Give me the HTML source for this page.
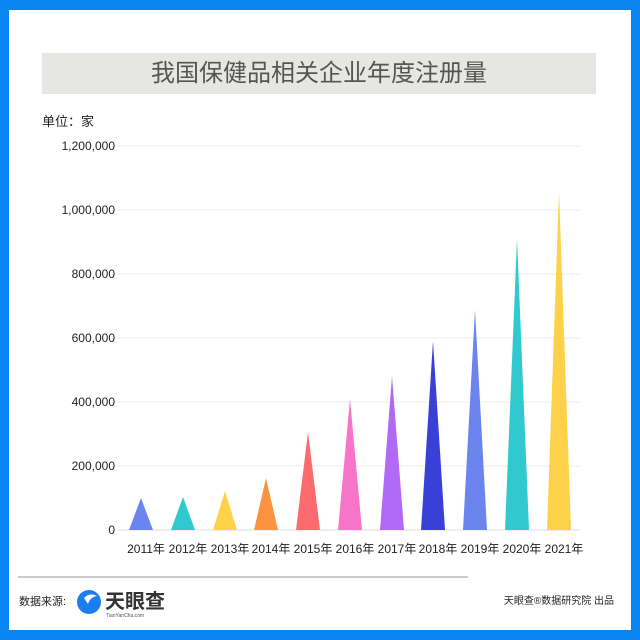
<!DOCTYPE html>
<html><head><meta charset="utf-8"><style>
body{margin:0;width:640px;height:640px;background:#0a84f0;position:relative;overflow:hidden;font-family:"Liberation Sans","Noto Sans CJK SC",sans-serif}
#w{position:absolute;left:9px;top:10px;width:622px;height:620px;background:#fff}
.t{position:absolute}
</style></head><body>
<div id="w"></div>
<div class="t" style="left:42px;top:53px;width:554px;height:41px;background:#e6e6e3;color:#555;font-size:24px;line-height:41px;text-align:center">我国保健品相关企业年度注册量</div>
<div class="t" style="left:42px;top:111px;font-size:13px;color:#222">单位：家</div>
<svg class="t" style="left:0;top:0" width="640" height="640">
<g stroke="#eee" stroke-width="1">
<line x1="118" x2="580" y1="146" y2="146"/><line x1="118" x2="580" y1="210" y2="210"/><line x1="118" x2="580" y1="274" y2="274"/><line x1="118" x2="580" y1="338" y2="338"/><line x1="118" x2="580" y1="402" y2="402"/><line x1="118" x2="580" y1="466" y2="466"/><line x1="118" x2="580" y1="530" y2="530" stroke="#ddd"/>
</g>
<g font-size="12" fill="#222" text-anchor="end">
<text x="115" y="150">1,200,000</text><text x="115" y="214">1,000,000</text><text x="115" y="278">800,000</text><text x="115" y="342">600,000</text><text x="115" y="406">400,000</text><text x="115" y="470">200,000</text><text x="115" y="534">0</text>
</g>
<g>
<polygon points="129,530 153,530 141,498" fill="#6b84ee"/>
<polygon points="171,530 195,530 183,497" fill="#2fc9cf"/>
<polygon points="213,530 237,530 225,491" fill="#fdd24a"/>
<polygon points="254,530 278,530 266,478" fill="#fb9442"/>
<polygon points="296,530 320,530 308,432" fill="#fb6b6d"/>
<polygon points="338,530 362,530 350,399" fill="#f775c8"/>
<polygon points="380,530 404,530 392,376" fill="#b26af6"/>
<polygon points="421,530 445,530 433,341" fill="#3a40d6"/>
<polygon points="463,530 487,530 475,310" fill="#6b84ee"/>
<polygon points="505,530 529,530 517,239" fill="#2fc9cf"/>
<polygon points="547,530 571,530 559,191" fill="#fdd24a"/>
</g>
<g font-size="12" fill="#222" text-anchor="middle">
<text x="146" y="553">2011年</text><text x="188" y="553">2012年</text><text x="230" y="553">2013年</text><text x="271" y="553">2014年</text><text x="313" y="553">2015年</text><text x="355" y="553">2016年</text><text x="397" y="553">2017年</text><text x="438" y="553">2018年</text><text x="480" y="553">2019年</text><text x="522" y="553">2020年</text><text x="564" y="553">2021年</text>
</g>
<line x1="18" x2="468" y1="577" y2="577" stroke="#ccc" stroke-width="2"/>
<text x="19" y="605" font-size="11" fill="#222">数据来源:</text>
<circle cx="89" cy="602" r="12" fill="#1a7ef0"/>
<path d="M84 598 q6 -6 13 -2 q-7 1 -9 8 z" fill="#fff"/>
<text x="105" y="608" font-size="20" fill="#333" font-weight="bold">天眼查</text>
<text x="106" y="617" font-size="5" fill="#555">TianYanCha.com</text>
<text x="614" y="604" font-size="10" fill="#222" text-anchor="end">天眼查®数据研究院 出品</text>
</svg>
</body></html>
